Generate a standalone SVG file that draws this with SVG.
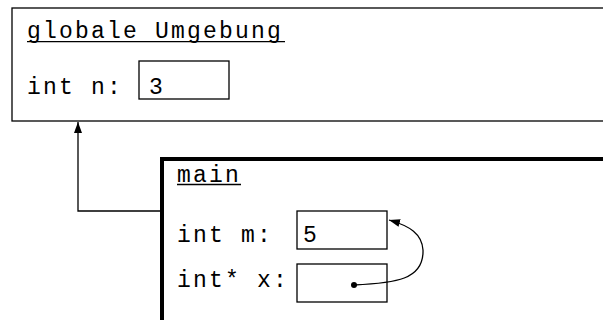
<svg xmlns="http://www.w3.org/2000/svg" width="603" height="320" viewBox="0 0 603 320">
<style>
text{font-family:"Liberation Mono","DejaVu Sans Mono",monospace;font-size:23px;letter-spacing:2.2px;fill:#000}
.box{fill:#fff;stroke:#000;stroke-width:1.3}
.frame{fill:#fff;stroke:#000}
.ul{stroke:#000;stroke-width:1.3}
.conn{fill:none;stroke:#000;stroke-width:1.3}
</style>
<defs>
<marker id="ah" markerWidth="12" markerHeight="10" refX="11" refY="4" orient="auto" markerUnits="userSpaceOnUse">
<path d="M0,0 L11,4 L0,8 Z" fill="#000"/>
</marker>
</defs>
<g id="global">
<rect class="frame" x="12" y="8" width="600" height="113" stroke-width="1.3"/>
<text x="27" y="37.5">globale Umgebung</text>
<line class="ul" x1="27" y1="41.7" x2="285" y2="41.7"/>
<text x="27" y="94">int n:</text>
<rect class="box" x="139" y="61" width="90" height="38"/>
<text x="149" y="94">3</text>
</g>
<g id="main">
<rect class="frame" x="162" y="159" width="500" height="200" stroke-width="4"/>
<text x="177" y="181.5">main</text>
<line class="ul" x1="177" y1="184.5" x2="241" y2="184.5"/>
<text x="177" y="241.5">int m:</text>
<rect class="box" x="297" y="211" width="90" height="38"/>
<text x="303" y="241.5">5</text>
<text x="177" y="286.5">int* x:</text>
<rect class="box" x="297" y="264" width="90" height="38"/>
</g>
<g id="connectors">
<path class="conn" d="M160,211 L78,211 L78,122" marker-end="url(#ah)"/>
<circle cx="354" cy="285" r="3" fill="#000"/>
<path class="conn" d="M354,285 C395,283 424,280 423,250 C422,234 410,226 389,220" marker-end="url(#ah)"/>
</g>
</svg>
